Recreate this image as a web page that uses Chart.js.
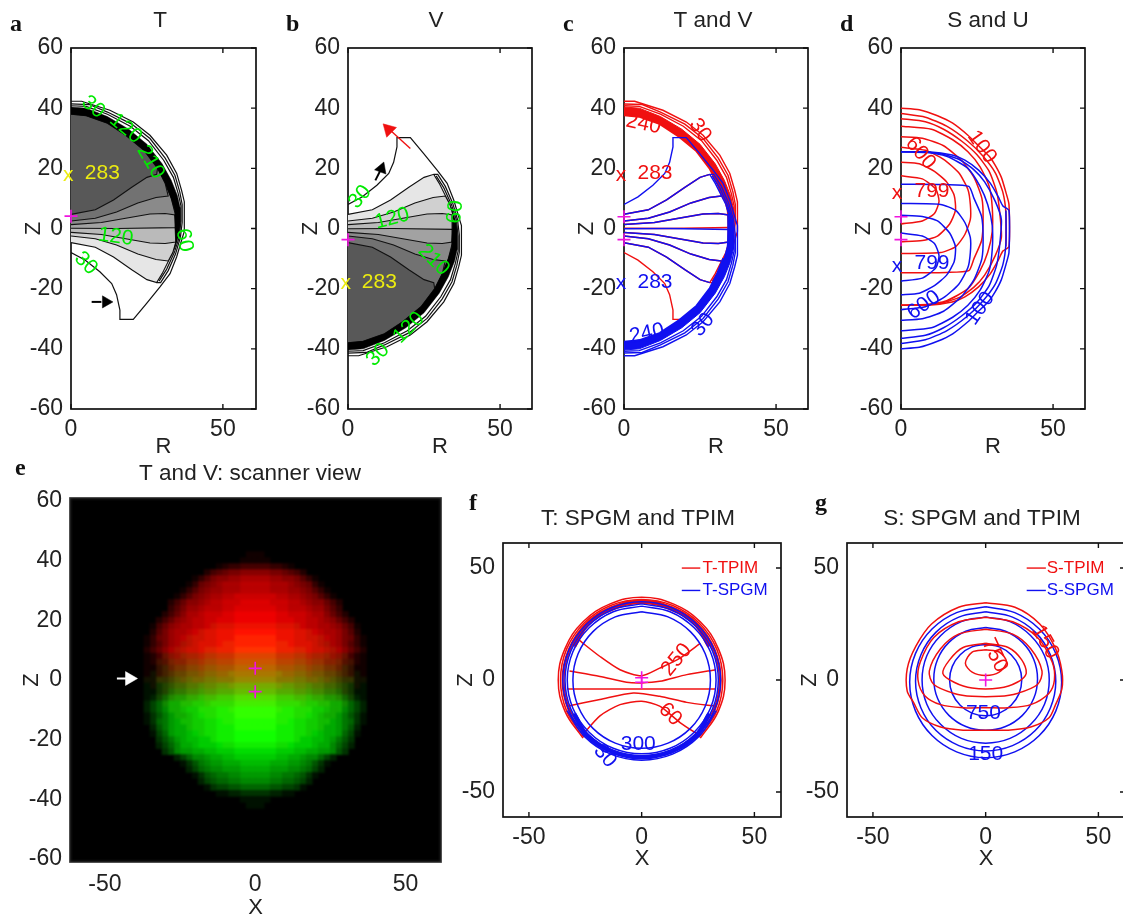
<!DOCTYPE html>
<html><head><meta charset="utf-8">
<style>
html,body{margin:0;padding:0;background:#fff;width:1123px;height:920px;overflow:hidden}
canvas{position:absolute;filter:blur(0.45px)}
.tag{position:absolute;font:bold 24px "Liberation Serif",serif;color:#111;line-height:20px;filter:blur(0.4px)}
</style>
<script src="https://cdn.jsdelivr.net/npm/chart.js@4"></script>
</head><body>
<div id="root"></div>
<script>
// ---------- shared tick labels ----------
const rTicks=[0,50];
const zTicks=[60,40,20,0,-20,-40,-60];
const xTicksWide=[-50,0,50];
const zTicksShort=[50,0,-50];
// ---------- T contours (panel a), R,Z ----------
const tOuter=[[0,42.3],[3.5,42.3],[5,41.8],[12.8,39.3],[20.5,35.4],[26,31],[31.5,24.4],[34.8,18.3],[36.4,12.7],[37.3,8.9],[37.3,2.8],[37.3,-1],[36.4,-3.9],[34.8,-9.4],[32.6,-15],[29.3,-19.4],[24.9,-24.9],[20.5,-30.2],[16.1,-30.2],[16.1,-27.1],[15,-22],[13.4,-18.3],[9.5,-14.4],[4.6,-10.5],[0,-8]];
const tSecond=[[0,41.4],[6,41.2],[12,38.7],[20,34.7],[26,29.9],[31,23.4],[34.2,17.7],[35.8,12.2],[36.6,8],[36.6,2],[36,-3],[34.4,-8.5],[32,-14],[29.5,-18],[28.2,-18]];
const tThird=[[0,40.8],[5,40.6],[12,38],[19.5,34],[25.5,29.2],[30.5,22.7],[33.7,17],[35.3,11.6],[36.2,7.5],[36.2,2.5],[35.6,-3],[34,-8],[31.5,-13.5],[29,-17.5]];
const tInner=[[28.2,-18],[30,-15],[32,-11],[33.5,-8],[34.5,-4.5],[34.5,0.5],[34,6],[33,10],[31,15],[28.5,20],[24,26],[18,31],[12,35],[5,37.5],[0,38]];
const tInnerTop=[[33,10],[31,15],[28.5,20],[24,26],[18,31],[12,35],[5,37.5],[0,38]];
const tBand=[[0,40.4],[5,40],[12,37.2],[19,33],[25,28],[30,21.5],[33,16],[35,11],[35.9,7],[36,2],[35.8,-1],[35,-4],[34,-7],[34.5,-4.5],[34.2,0],[34.2,6],[33,10],[31,15],[28.5,20],[24,26],[18,31],[12,35],[5,37.5],[0,38]];
const tW1=[[0,-4.7],[8,-6.2],[14,-9.5],[20,-13.7],[25,-17],[28.2,-18]];
const tW2=[[0,-2.5],[8,-3.4],[15,-5.5],[22,-8.5],[28,-10.3],[32,-10.8]];
const tW3=[[0,-1.3],[10,-2],[18,-3.4],[26,-4.8],[31,-5],[34.5,-4.5]];
const tW4=[[0,0.1],[15,0],[34.5,0.3]];
const tGrays=['#e6e6e6','#d0d0d0','#bababa','#a2a2a2','#8a8a8a','#727272','#585858'];
// ---------- S contours (panel d), R,Z ----------
const sR1=[[0,40],[6,39.5],[12,37.5],[17,35],[22,31],[25,28],[29,24],[31,21],[33,17],[34.5,12],[35.5,8],[35.5,-6],[33.5,-7.5],[32,-10.5],[29.4,-15],[25.5,-19.4],[21,-22.7],[16.8,-24.4],[9,-25.5],[0,-25.5]];
const sR2=[[0,38.2],[8,37],[15,34],[22,29],[27,24],[31,18.5],[33.5,12],[34.5,5],[34.5,-6]];
const sR3=[[0,36.5],[8,35.5],[14,33],[20,29],[25,24.5],[29,19],[31.5,12],[32.5,5],[33,-3],[31,-9],[27.5,-15.5],[24,-19.5],[19,-23],[12,-25],[0,-25.5]];
const sR4=[[0,34],[10,33],[17,29.5],[22,25.5],[26,20.5],[29,14],[30,7],[30,-1],[28.5,-8],[26,-14],[22,-20],[15,-24],[8,-25.4],[0,-25.5]];
const sR5=[[0,30.5],[7,30],[14,27.5],[20,22.5],[24,17],[26.6,10],[27,3],[26.5,-4],[24,-10],[22.3,-14],[15,-14.6],[0,-14.7]];
const sR6=[[0,27],[8,26],[14,23],[19,18.5],[22,13],[22.8,8],[22.8,3],[21,-2],[18,-6],[13,-8],[0,-8.3]];
const sR7=[[0,22],[6,21.5],[11,19],[15,15.5],[17.5,11],[17.9,6],[16,1.5],[12,-2.5],[7,-4],[0,-4.4]];
const sR8=[[0,17.5],[7,16.5],[11.5,13],[12.5,9],[11,5],[7,2.5],[0,1.5]];
// ---------- panel f contours, X,Z ----------
const fRed1=[[26,-26],[34,-14],[37,0],[34,14],[26,26],[14,34],[0,37],[-14,34],[-26,26],[-34,14],[-37,0],[-34,-14],[-26,-26]];
const fRed2=[[25.5,-25.5],[33.3,-13.8],[36,0],[33.3,13.8],[25.5,25.5],[13.8,33.3],[0,36],[-13.8,33.3],[-25.5,25.5],[-33.3,13.8],[-36,0],[-33.3,-13.8],[-25.5,-25.5]];
const fRed3=[[25,-25],[32.5,-13.5],[35.2,0],[32.5,13.5],[25,25],[13.5,32.5],[0,35.2],[-13.5,32.5],[-25,25],[-32.5,13.5],[-35.2,0],[-32.5,-13.5],[-25,-25]];
const fRed4=[[24.4,-24.4],[31.9,-13.2],[34.5,0],[31.9,13.2],[24.4,24.4],[13.2,31.9],[0,34.5],[-13.2,31.9],[-24.4,24.4],[-31.9,13.2],[-34.5,0],[-31.9,-13.2],[-24.4,-24.4]];
const fRedTop=[[-30,15],[-24,25],[-13,32],[0,35],[13,32],[24,25],[30,15]];
const fRedA=[[-28,18],[-18.5,10.5],[-9.6,4.6],[0,1.9],[8,5.3],[17,9.8],[26,16.4]];
const fRedB=[[-32,4],[-18.5,1.6],[-6.7,-1],[0,-1.3],[8,-0.6],[20,2.4],[33,4.6]];
const fRedC=[[-33,-4],[33,-4]];
const fRedD=[[-33,-11.7],[-18.5,-8.7],[-3.7,-5.8],[8,-7.3],[20,-10],[33,-11.7]];
const fRedE=[[-26.6,-25],[-18.5,-16],[-9.6,-11],[0,-9.5],[8,-11.7],[17,-19],[26,-25]];
const fBlue1=[[0,30.5],[11.7,28.2],[21.6,21.6],[28.2,11.7],[30.5,0],[28.2,-11.7],[21.6,-21.6],[11.7,-28.2],[0,-30.5],[-11.7,-28.2],[-21.6,-21.6],[-28.2,-11.7],[-30.5,0],[-28.2,11.7],[-21.6,21.6],[-11.7,28.2],[0,30.5]];
const fBlue2=[[0,33],[12.6,30.5],[23.3,23.3],[30.5,12.6],[33,0],[30.5,-12.6],[23.3,-23.3],[12.6,-30.5],[0,-33],[-12.6,-30.5],[-23.3,-23.3],[-30.5,-12.6],[-33,0],[-30.5,12.6],[-23.3,23.3],[-12.6,30.5],[0,33]];
const fBlue3=[[0,34],[13,31.4],[24,24],[31.4,13],[34,0],[31.4,-13],[24,-24],[13,-31.4],[0,-34],[-13,-31.4],[-24,-24],[-31.4,-13],[-34,0],[-31.4,13],[-24,24],[-13,31.4],[0,34]];
const fBlue4=[[13.4,-32.3],[24.7,-24.7],[32.3,-13.4],[35,0],[32.3,13.4],[24.7,24.7],[13.4,32.3],[0,35],[-13.4,32.3],[-24.7,24.7],[-32.3,13.4],[-35,0],[-32.3,-13.4],[-24.7,-24.7],[-13.4,-32.3],[0,-35],[13.4,-32.3]];
const fBlue5=[[-33.1,-13.7],[-25.3,-25.3],[-13.7,-33.1],[0,-35.8],[13.7,-33.1],[25.3,-25.3],[33.1,-13.7]];
const fBlueBottom=[[-30,-15],[-24,-25],[-13,-32],[0,-34.5],[13,-32],[24,-25],[30,-15]];
// ---------- panel g contours, X,Z ----------
const gRed1=[[0,34.5],[13,32.5],[24,25],[31,14],[33.8,4],[33.8,-4],[31,-11],[28,-17],[20,-21],[10,-22.4],[0,-22.4],[-10,-22.4],[-20,-21],[-28,-17],[-32,-10],[-34.8,-5],[-34.8,5],[-31,15],[-24,25],[-12,32.5],[0,34.5]];
const gRed2=[[0,28],[12,26],[23,19],[29.5,8],[30.5,0],[28,-6],[20,-11],[10,-12.4],[0,-12.4],[-10,-12.4],[-20,-11],[-27,-7],[-30,0],[-29,8],[-23,19],[-12,26],[0,28]];
const gRed3=[[0,22.7],[12,20.5],[20,14],[25,4],[23,-2],[14,-6],[6,-7.3],[-6,-7.3],[-14,-6],[-23,-2],[-25,4],[-20,14],[-12,20.5],[0,22.7]];
const gRed4=[[0,16.4],[10,14.5],[16,9],[18,3],[14,-1],[6,-3.6],[-6,-3.6],[-14,-1],[-19,3],[-16,9],[-10,14.5],[0,16.4]];
const gRed5=[[0,13.5],[6,12.5],[9.3,8],[6,3.5],[0,2],[-6,3.5],[-9,7.5],[-6,12.5],[0,13.5]];
const gBlue1=[[0,32.7],[12.9,30.1],[23.8,22.8],[31.1,11.9],[33.7,-1],[31.1,-13.9],[23.8,-24.8],[12.9,-32.1],[0,-34.7],[-12.9,-32.1],[-23.8,-24.8],[-31.1,-13.9],[-33.7,-1],[-31.1,11.9],[-23.8,22.8],[-12.9,30.1],[0,32.7]];
const gBlue2=[[0,30.5],[11.9,28.1],[22,21.4],[28.7,11.3],[31.1,-0.6],[28.7,-12.5],[22,-22.6],[11.9,-29.3],[0,-31.7],[-11.9,-29.3],[-22,-22.6],[-28.7,-12.5],[-31.1,-0.6],[-28.7,11.3],[-22,21.4],[-11.9,28.1],[0,30.5]];
const gBlue3=[[0,28.2],[10.8,26.1],[19.9,19.9],[26.1,10.8],[28.2,0],[26.1,-10.8],[19.9,-19.9],[10.8,-26.1],[0,-28.2],[-10.8,-26.1],[-19.9,-19.9],[-26.1,-10.8],[-28.2,0],[-26.1,10.8],[-19.9,19.9],[-10.8,26.1],[0,28.2]];
const gBlue4=[[0,23.5],[8.8,21.8],[16.3,16.8],[21.3,9.3],[23,0.5],[21.3,-8.3],[16.3,-15.8],[8.8,-20.8],[0,-22.5],[-8.8,-20.8],[-16.3,-15.8],[-21.3,-8.3],[-23,0.5],[-21.3,9.3],[-16.3,16.8],[-8.8,21.8],[0,23.5]];
const gBlue5=[[0,16],[6.1,14.8],[11.3,11.3],[14.8,6.1],[16,0],[14.8,-6.1],[11.3,-11.3],[6.1,-14.8],[0,-16],[-6.1,-14.8],[-11.3,-11.3],[-14.8,-6.1],[-16,0],[-14.8,6.1],[-11.3,11.3],[-6.1,14.8],[0,16]];
// ---------- panel e: scanner image, hex level per 2-unit cell, right half (x=0,2,4..38), rows z=44 down to -44 ----------
const imgRows=[44,42,40,38,36,34,32,30,28,26,24,22,20,18,16,14,12,10,8,6,4,2,0,-2,-4,-6,-8,-10,-12,-14,-16,-18,-20,-22,-24,-26,-28,-30,-32,-34,-36,-38,-40,-42,-44];
const imgRed=['','11000000000000000000','11100000000000000000','44433210000000000000','88877654200000000000','aaa99887531000000000','bbbaaa98763100000000','bbbaaa99875310000000','ccccbbaa987531000000','dddcccbba98864200000','ddddccbbba9975300000','eeeeddcccbaa86420000','eeeedddccbba98642000','eeeedddccbbaa9864100','ffffeeeddccbaa975200','ffffeeeddccbba976310','ffffeeedddcbaa975310','ffffeeedddccbaa86420','ddddcccbbbaa99864210','ccccbbbaaa9988754210','bbbbaaa9998877643110','aaaa9998887766543110','99998887777665433110','77777666655544321100','66665555544433221000','55554444433322211000','44443333322221110000','33333222221111100000','33332222211111000000','22222211111110000000','22221111111100000000','11111111110000000000','11111111000000000000','11111100000000000000'];
const imgGreen=['','','','','','','','','','','','','','11111111000000000000','11111111110000000000','22221111111100000000','22222211111110000000','33332222211111000000','44443333322221110000','55554444433322211000','66665555544433221000','77777666655544321100','88887777766655433110','aaaa9998887766543110','bbbbaaa9998877643110','ddddcccbbbaa99864210','eeeeddddcccbbaa86420','ffffeeedddccbaa86420','ffffeeedddcbaa975310','ffffeeeddccbba976310','ffffeeeddccbaa975200','ffffeeeddccbaa964100','ffffeeedccbba9753000','eeeedddcccbaa8642000','ddddcccbbaa998530000','ccccbbaa988642000000','bbbaaa99875310000000','aaa99988764200000000','99988776531000000000','88877665420000000000','66655443100000000000','33322110000000000000','11100000000000000000','11000000000000000000'];
// ---------- markers ----------
const crossA=[[0,4.1]], crossB=[[0,-3.7]], crossCD=[[0,3.9],[0,-3.7]], crossE=[[0,3.9],[0,-3.9]], crossF=[[0,1],[0,-1]], crossG=[[0,0]];
// ---------- text labels: text, x, y, rotation deg, colour, optional size, optional align ----------
const GRN='#00ea00',YEL='#ecec10',RED='#f01010',BLU='#1010f0';
const labelsA=[['30',7.3,40.4,40,GRN],['120',18,33.2,40,GRN],['210',26.2,22.1,60,GRN],['120',14.7,-2.8,8,GRN],['60',37.3,-3.9,80,GRN],['30',4.9,-11.6,45,GRN],['x',-0.9,17.7,0,YEL],['283',10.3,18.5,0,YEL]];
const labelsB=[['30',4,10.5,-50,GRN],['120',14.5,3.3,-15,GRN],['60',35.3,5.5,-85,GRN],['210',28.2,-10.5,45,GRN],['120',20,-33,-45,GRN],['30',9.8,-42,-45,GRN],['x',-0.7,-18.3,0,YEL],['283',10.3,-17.7,0,YEL]];
const labelsC=[['x',-1,17.7,0,RED],['283',10.2,18.3,0,RED],['240',6.4,34.7,12,RED],['30',25,32.7,55,RED],['x',-1,-18.3,0,BLU],['283',10.2,-17.7,0,BLU],['240',7.5,-34.9,-12,BLU],['30',26,-32,-50,BLU]];
const labelsD=[['x',-1.3,11.8,0,RED],['799',10.2,12.5,0,RED],['600',6.4,25,50,RED],['100',26.6,27.1,55,RED],['x',-1.3,-12.5,0,BLU],['799',10.2,-11.6,0,BLU],['600',7.5,-25.5,-35,BLU],['100',26,-26.6,-55,BLU]];
const labelsF=[['250',15.5,9,-50,RED],['60',12.6,-15.4,45,RED],['300',-1.5,-28.7,0,BLU],['30',-16.3,-34,50,BLU],['T-TPIM',27,50,0,RED,17,'left'],['T-SPGM',27,40,0,BLU,17,'left']];
const labelsG=[['750',4,11,65,RED],['150',26.4,17,60,RED],['750',-1,-14.7,0,BLU],['150',0,-33,0,BLU],['S-TPIM',27.1,50,0,RED,17,'left'],['S-SPGM',27.1,40,0,BLU,17,'left']];

const flip=a=>a.map(p=>[p[0],-p[1]]);
const tW5=flip(tW3),tW6=flip(tW2),tW7=flip(tW1);
const tWs=[tW1,tW2,tW3,tW4,tW5,tW6,tW7];
const poly=w=>w.concat(tInner.filter(p=>p[1]>w[w.length-1][1]+0.5));
const FONT='"Liberation Sans",Arial,sans-serif';

const line=(data,color,width,extra)=>Object.assign({data,showLine:true,pointRadius:0,borderColor:color,borderWidth:width||1.5,backgroundColor:color,tension:0,fill:false},extra||{});
const crosses=d=>({data:d,showLine:false,pointStyle:'cross',pointRadius:6.5,pointBorderColor:'#f014e0',pointBackgroundColor:'#f014e0',pointBorderWidth:1.6,borderColor:'#f014e0',clip:false});
const head=(pt,color,r,rot)=>({data:[pt],showLine:false,pointStyle:'triangle',pointRadius:r,pointRotation:rot,pointBackgroundColor:color,pointBorderColor:color,pointBorderWidth:0.5,borderColor:color,clip:false});

const tFills=tf=>tWs.map((w,i)=>line(tf(poly(w)),'#111',1.1,{fill:'shape',backgroundColor:tGrays[i]}));
const tRings=(tf,c,wd)=>[tOuter,tSecond,tThird].map(a=>line(tf(a),c,wd));
const same=a=>a;

function tLines(tf,c){
  return tWs.map(w=>line(tf(w),c,1.5)).concat([line(tf(tInner),c,1.4),line(tf(tInnerTop),c,4),line(tf(tBand),c,1,{fill:'shape'})]).concat(tRings(tf,c,1.4));
}

const sRs=[sR1,sR2,sR3,sR4,sR5,sR6,sR7,sR8];

const cells=[],cellColors=[];
imgRows.forEach((z,ri)=>{
  const rr=imgRed[ri]||'',gg=imgGreen[ri]||'';
  for(let c=0;c<20;c++){
    const r=parseInt(rr[c]||'0',16)*17,g=parseInt(gg[c]||'0',16)*17;
    if(!r&&!g)continue;
    const col=`rgb(${r},${g},0)`;
    cells.push([c*2,z]);cellColors.push(col);
    if(c>0){cells.push([-c*2,z]);cellColors.push(col);}
  }
});

const panels=[
 {tag:'a',tagX:10,tagY:13,title:'T',l:71,r:256,t:48,b:409,cx:160,cy:21,ml:50,mb:51,xr:[0,60.9],yr:[-60,60],xt:rTicks,yt:zTicks,xTitle:'R',labels:labelsA,
  ds:[...tFills(same),line(tBand,'#000',0.5,{fill:'shape',backgroundColor:'#000'}),...tRings(same,'#111',1.2),
      line([[6.8,-24.4],[10,-24.4]],'#000',2),head([11.5,-24.4],'#000',7,90),crosses(crossA)]},
 {tag:'b',tagX:286,tagY:13,title:'V',l:348,r:532,t:48,b:409,cx:436,cy:21,ml:50,mb:51,xr:[0,60.5],yr:[-60,60],xt:rTicks,yt:zTicks,xTitle:'R',labels:labelsB,
  ds:[...tFills(flip),line(flip(tBand),'#000',0.5,{fill:'shape',backgroundColor:'#000'}),...tRings(flip,'#111',1.2),
      line([[9,16],[11,20]],'#000',2),head([11,19.9],'#000',7,20),line([[20.5,26.6],[13,33.5]],'#f01010',1.4),head([13.4,32.9],'#f01010',8,-45),crosses(crossB)]},
 {tag:'c',tagX:563,tagY:13,title:'T and V',l:624,r:808,t:48,b:409,cx:713,cy:21,ml:50,mb:51,xr:[0,60.5],yr:[-60,60],xt:rTicks,yt:zTicks,xTitle:'R',labels:labelsC,
  ds:[...tLines(same,RED),...tLines(flip,BLU),crosses(crossCD)]},
 {tag:'d',tagX:840,tagY:13,title:'S and U',l:901,r:1085,t:48,b:409,cx:988,cy:21,ml:50,mb:51,xr:[0,60.5],yr:[-60,60],xt:rTicks,yt:zTicks,xTitle:'R',labels:labelsD,
  ds:[...sRs.map(a=>line(a,RED,1.5,{tension:0.2})),...sRs.map(a=>line(flip(a),BLU,1.5,{tension:0.2})),crosses(crossCD)]},
 {tag:'e',tagX:15,tagY:457,black:true,title:'T and V: scanner view',l:70,r:441,t:498,b:862,cx:250,cy:474,ml:51,mb:59,tickPad:9,xr:[-61.6,61.8],yr:[-61,61],xt:xTicksWide,yt:zTicks,xTitle:'X',labels:[],
  ds:[{data:cells,showLine:false,pointStyle:'rect',pointRadius:4.65,pointBorderWidth:0,pointBackgroundColor:cellColors},
      line([[-46,0.5],[-42,0.5]],'#fff',2),head([-41.8,0.5],'#fff',8,90),crosses(crossE)]},
 {tag:'f',tagX:469,tagY:492,title:'T: SPGM and TPIM',l:503,r:781,t:543,b:817,cx:638,cy:519,ml:50,mb:55,xr:[-61.5,61.8],yr:[-61.2,61.2],xt:xTicksWide,yt:zTicksShort,xTitle:'X',labels:labelsF,
  ds:[...[fRed1,fRed2,fRed3,fRed4].map(a=>line(a,RED,1.5,{tension:0.4})),line(fRedTop,RED,4.5,{tension:0.4}),
      ...[fRedA,fRedB,fRedC,fRedD,fRedE].map(a=>line(a,RED,1.5,{tension:0.25})),
      ...[fBlue1,fBlue2,fBlue3,fBlue4,fBlue5].map(a=>line(a,BLU,1.5,{tension:0.4})),line(fBlueBottom,BLU,4.5,{tension:0.4}),
      line([[17.8,50],[26,50]],RED,1.4),line([[17.8,40],[26,40]],BLU,1.4),crosses(crossF)]},
 {tag:'g',tagX:815,tagY:492,title:'S: SPGM and TPIM',l:847,r:1125,t:543,b:817,cx:982,cy:519,ml:50,mb:55,xr:[-61.5,61.8],yr:[-61.2,61.2],xt:xTicksWide,yt:zTicksShort,xTitle:'X',labels:labelsG,
  ds:[...[gBlue1,gBlue2,gBlue3,gBlue4,gBlue5].map(a=>line(a,BLU,1.5,{tension:0.4})),
      ...[gRed1,gRed2,gRed3,gRed4,gRed5].map(a=>line(a,RED,1.5,{tension:0.3})),
      line([[18.2,50],[26.7,50]],RED,1.4),line([[18.2,40],[26.7,40]],BLU,1.4),crosses(crossG)]}
];

const root=document.getElementById('root');
panels.forEach(p=>{
  const tag=document.createElement('div');tag.className='tag';tag.textContent=p.tag;tag.style.left=p.tagX+'px';tag.style.top=p.tagY+'px';root.appendChild(tag);
  const left=p.l-p.ml, top=Math.round(p.cy-13), W=p.ml+(p.r-p.l)+44, H=p.b+p.mb-top;
  const pb=p.t-top-26.4, pr=44;
  const cv=document.createElement('canvas');cv.width=W;cv.height=H;cv.style.left=left+'px';cv.style.top=top+'px';cv.style.width=W+'px';cv.style.height=H+'px';root.appendChild(cv);
  const n=p.ds.length;
  p.ds.forEach((d,i)=>{d.order=n-i;});
  const deco={id:'deco'+p.tag,
    afterLayout(ch){
      const b=ch.titleBlock,c0=p.cx-left;
      if(b){b.left=c0-250;b.right=c0+250;}
    },
    beforeDatasetsDraw(ch){
      const a=ch.chartArea,c=ch.ctx,sx=ch.scales.x,sy=ch.scales.y;
      c.save();
      if(p.black){c.fillStyle='#000';c.fillRect(a.left,a.top,a.right-a.left,a.bottom-a.top);}
      c.strokeStyle=p.black?'#333':'#111';c.lineWidth=1.7;
      c.strokeRect(a.left,a.top,a.right-a.left,a.bottom-a.top);
      c.lineWidth=1.4;c.beginPath();
      if(!p.black){
        p.xt.forEach(v=>{const x=sx.getPixelForValue(v);c.moveTo(x,a.bottom);c.lineTo(x,a.bottom-5);c.moveTo(x,a.top);c.lineTo(x,a.top+5);});
        p.yt.forEach(v=>{const y=sy.getPixelForValue(v);c.moveTo(a.right,y);c.lineTo(a.right-5,y);});
      }
      c.stroke();c.restore();
    },
    afterDatasetDraw(ch,args){
      if(!(p.black&&args.index===0))return;
      const a=ch.chartArea,c=ch.ctx,w=a.right-a.left,h=a.bottom-a.top;
      c.save();c.beginPath();c.rect(a.left,a.top,w,h);c.clip();
      c.filter='blur(1.3px)';
      c.drawImage(ch.canvas,a.left,a.top,w,h,a.left,a.top,w,h);
      c.restore();
    },
    afterDatasetsDraw(ch){
      const c=ch.ctx,sx=ch.scales.x,sy=ch.scales.y;
      c.save();
      p.labels.forEach(l=>{
        c.save();c.translate(sx.getPixelForValue(l[1]),sy.getPixelForValue(l[2]));c.rotate((l[3]||0)*Math.PI/180);
        c.fillStyle=l[4];c.font=`${l[5]||21}px ${FONT}`;c.textAlign=l[6]||'center';c.textBaseline='middle';c.fillText(l[0],0,0);c.restore();
      });
      c.restore();
    }};
  new Chart(cv,{type:'scatter',data:{datasets:p.ds},plugins:[deco],options:{
    responsive:false,animation:false,devicePixelRatio:1,
    layout:{padding:{left:0,top:0,bottom:0,right:pr}},
    plugins:{legend:{display:false},tooltip:{enabled:false},
      title:{display:true,text:p.title,color:'#222',font:{family:FONT,size:22.5,weight:'normal',lineHeight:1.1733},padding:{top:0,bottom:pb}}},
    scales:{
      x:{type:'linear',min:p.xr[0],max:p.xr[1],grid:{display:false,drawTicks:false},border:{display:false},
        afterBuildTicks:s=>{s.ticks=p.xt.map(v=>({value:v}));},afterFit:s=>{s.height=p.mb;},
        ticks:{autoSkip:false,maxRotation:0,minRotation:0,padding:p.tickPad||7,color:'#222',font:{family:FONT,size:23},callback:v=>String(v)},
        title:{display:true,text:p.xTitle,color:'#222',font:{family:FONT,size:22},padding:0}},
      y:{type:'linear',min:p.yr[0],max:p.yr[1],grid:{display:false,drawTicks:false},border:{display:false},
        afterBuildTicks:s=>{s.ticks=p.yt.map(v=>({value:v}));},afterFit:s=>{s.width=p.ml;},
        ticks:{autoSkip:false,padding:8,color:'#222',font:{family:FONT,size:23},callback:v=>String(v)},
        title:{display:true,text:'Z',color:'#222',font:{family:FONT,size:22},padding:0}}
    }}});
});
</script>
</body></html>
